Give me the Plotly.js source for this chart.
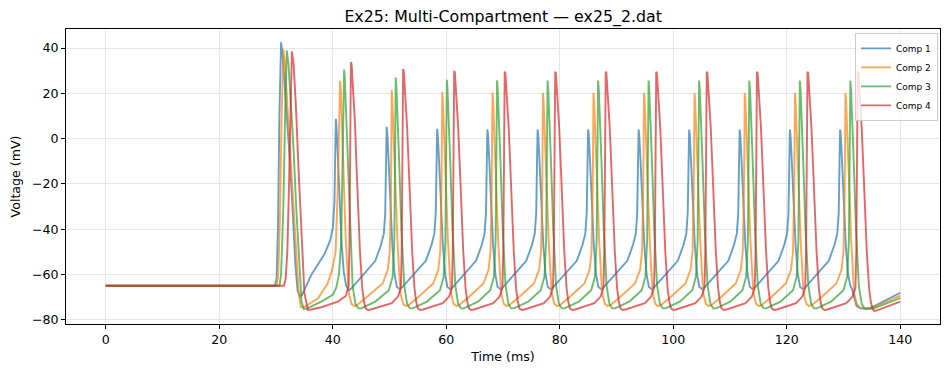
<!DOCTYPE html>
<html>
<head>
<meta charset="utf-8">
<script src="https://cdn.plot.ly/plotly-3.0.1.min.js"></script>
<style>html,body{margin:0;padding:0;background:#fff;}#chart{width:950px;height:374px;}</style>
</head>
<body>
<div id="chart"></div>
<script>
// Series names
const seriesNames = ["Comp 1", "Comp 2", "Comp 3", "Comp 4"];

// Comp 1 (time ms, voltage mV)
const comp1T = [0, 29.8, 30.1, 30.35, 30.6, 30.9, 31.2, 31.6, 32.0, 32.5, 33.0, 33.4, 33.8, 34.2, 34.6, 36.2,
  38.55, 39.55, 40.05, 40.3, 40.45, 40.55, 40.65, 40.85, 41.15, 41.55, 41.95, 42.35, 42.85, 43.35,
  47.5, 48.5, 49.0, 49.25, 49.4, 49.5, 49.6, 49.8, 50.1, 50.5, 50.9, 51.3, 51.8, 52.3,
  56.4, 57.4, 57.9, 58.15, 58.3, 58.4, 58.5, 58.7, 59.0, 59.4, 59.8, 60.2, 60.7, 61.2,
  65.25, 66.25, 66.75, 67.0, 67.15, 67.25, 67.35, 67.55, 67.85, 68.25, 68.65, 69.05, 69.55, 70.05,
  74.1, 75.1, 75.6, 75.85, 76.0, 76.1, 76.2, 76.4, 76.7, 77.1, 77.5, 77.9, 78.4, 78.9,
  83.0, 84.0, 84.5, 84.75, 84.9, 85.0, 85.1, 85.3, 85.6, 86.0, 86.4, 86.8, 87.3, 87.8,
  91.9, 92.9, 93.4, 93.65, 93.8, 93.9, 94.0, 94.2, 94.5, 94.9, 95.3, 95.7, 96.2, 96.7,
  100.8, 101.8, 102.3, 102.55, 102.7, 102.8, 102.9, 103.1, 103.4, 103.8, 104.2, 104.6, 105.1, 105.6,
  109.7, 110.7, 111.2, 111.45, 111.6, 111.7, 111.8, 112.0, 112.3, 112.7, 113.1, 113.5, 114.0, 114.5,
  118.55, 119.55, 120.05, 120.3, 120.45, 120.55, 120.65, 120.85, 121.15, 121.55, 121.95, 122.35, 122.85, 123.35,
  127.4, 128.4, 128.9, 129.15, 129.3, 129.4, 129.5, 129.7, 130.0, 130.4, 130.8, 131.2, 131.5, 131.9, 132.3, 133.0, 134.0, 135.0, 140];
const comp1V = [-65, -65, -62, -40, 10, 42.5, 36, 22, 8, -12, -35, -55, -67, -69.8, -69, -60.3,
  -51, -45, -39, -28, -5, 8.7, 6, -5, -24, -46, -59, -65, -67, -66,
  -54, -47, -42, -33, -10, 5.2, 3, -7, -26, -47, -60, -65.5, -66.5, -65.5,
  -54, -47, -42, -33, -10, 4.3, 2, -8, -28, -47, -60, -65.5, -66.5, -65.5,
  -54, -47, -42, -33, -10, 4.1, 2, -8, -28, -47, -60, -65.5, -66.5, -65.5,
  -54, -47, -42, -33, -10, 4.0, 2, -8, -28, -47, -60, -65.5, -66.5, -65.5,
  -54, -47, -42, -33, -10, 4.0, 2, -8, -28, -47, -60, -65.5, -66.5, -65.5,
  -54, -47, -42, -33, -10, 4.0, 2, -8, -28, -47, -60, -65.5, -66.5, -65.5,
  -54, -47, -42, -33, -10, 4.0, 2, -8, -28, -47, -60, -65.5, -66.5, -65.5,
  -54, -47, -42, -33, -10, 4.0, 2, -8, -28, -47, -60, -65.5, -66.5, -65.5,
  -54, -47, -42, -33, -10, 4.0, 2, -8, -28, -47, -60, -65.5, -66.5, -65.5,
  -54, -47, -42, -33, -10, 4.0, 2, -8, -28, -47, -60, -65, -66.5, -71, -74, -75, -75.2, -74.5, -68.1];

// Comp 2
const comp2T = [0, 30.1, 30.4, 30.7, 31.0, 31.3, 31.6, 32.0, 32.5, 33.0, 33.5, 34.0, 34.4, 34.9, 37.4,
  39.1, 39.9, 40.5, 40.85, 41.05, 41.3, 41.42, 41.6, 41.8, 42.3, 42.8, 43.3, 43.8, 44.3, 46.0,
  48.8, 49.7, 50.05, 50.25, 50.33, 50.4, 50.5, 50.65, 50.9, 51.4, 51.9, 52.4, 52.9, 53.4, 55.1,
  57.7, 58.6, 58.95, 59.15, 59.23, 59.3, 59.4, 59.55, 59.8, 60.3, 60.8, 61.3, 61.8, 62.3, 64.0,
  66.55, 67.45, 67.8, 68.0, 68.08, 68.15, 68.25, 68.4, 68.65, 69.15, 69.65, 70.15, 70.65, 71.15, 72.85,
  75.45, 76.35, 76.7, 76.9, 76.98, 77.05, 77.15, 77.3, 77.55, 78.05, 78.55, 79.05, 79.55, 80.05, 81.75,
  84.35, 85.25, 85.6, 85.8, 85.88, 85.95, 86.05, 86.2, 86.45, 86.95, 87.45, 87.95, 88.45, 88.95, 90.65,
  93.25, 94.15, 94.5, 94.7, 94.78, 94.85, 94.95, 95.1, 95.35, 95.85, 96.35, 96.85, 97.35, 97.85, 99.55,
  102.15, 103.05, 103.4, 103.6, 103.68, 103.75, 103.85, 104.0, 104.25, 104.75, 105.25, 105.75, 106.25, 106.75, 108.45,
  111.0, 111.9, 112.25, 112.45, 112.53, 112.6, 112.7, 112.85, 113.1, 113.6, 114.1, 114.6, 115.1, 115.6, 117.3,
  119.85, 120.75, 121.1, 121.3, 121.38, 121.45, 121.55, 121.7, 121.95, 122.45, 122.95, 123.45, 123.95, 124.45, 126.15,
  128.75, 129.65, 130.0, 130.2, 130.28, 130.35, 130.45, 130.6, 130.85, 131.35, 131.85, 132.35, 132.85, 133.6, 135.0, 140];
const comp2V = [-65, -65, -60, -35, 10, 39.5, 32, 15, -5, -28, -52, -68, -74.5, -74.5, -70.5,
  -64, -58, -50, -25, 0, 25.5, 22, 10, -10, -45, -68, -73, -74, -73.5, -70,
  -64, -58, -50, -25, 5, 21.3, 17, 6, -10, -45, -68, -73, -74, -73.5, -70,
  -64, -58, -50, -25, 5, 20.6, 17, 6, -10, -45, -68, -73, -74, -73.5, -70,
  -64, -58, -50, -25, 5, 20.3, 17, 6, -10, -45, -68, -73, -74, -73.5, -70,
  -64, -58, -50, -25, 5, 20.2, 17, 6, -10, -45, -68, -73, -74, -73.5, -70,
  -64, -58, -50, -25, 5, 20.2, 17, 6, -10, -45, -68, -73, -74, -73.5, -70,
  -64, -58, -50, -25, 5, 20.2, 17, 6, -10, -45, -68, -73, -74, -73.5, -70,
  -64, -58, -50, -25, 5, 20.2, 17, 6, -10, -45, -68, -73, -74, -73.5, -70,
  -64, -58, -50, -25, 5, 20.2, 17, 6, -10, -45, -68, -73, -74, -73.5, -70,
  -64, -58, -50, -25, 5, 20.2, 17, 6, -10, -45, -68, -73, -74, -73.5, -70,
  -64, -58, -50, -25, 5, 20.2, 17, 6, -10, -45, -68, -73, -74.5, -75, -74.8, -69.4];

// Comp 3
const comp3T = [0, 30.6, 30.9, 31.3, 31.6, 31.9, 32.2, 32.6, 33.1, 33.6, 34.1, 34.5, 34.9, 35.5, 38.0, 40.0,
  40.6, 41.1, 41.5, 41.75, 41.9, 42.0, 42.12, 42.3, 42.6, 43.0, 43.5, 44.0, 44.5, 45.0, 47.5,
  49.9, 50.55, 50.85, 51.0, 51.05, 51.1, 51.22, 51.4, 51.7, 52.1, 52.6, 53.1, 53.6, 54.1, 56.6,
  58.9, 59.55, 59.85, 60.0, 60.05, 60.1, 60.22, 60.4, 60.7, 61.1, 61.6, 62.1, 62.6, 63.1, 65.6,
  67.75, 68.4, 68.7, 68.85, 68.9, 68.95, 69.07, 69.25, 69.55, 69.95, 70.45, 70.95, 71.45, 71.95, 74.45,
  76.65, 77.3, 77.6, 77.75, 77.8, 77.85, 77.97, 78.15, 78.45, 78.85, 79.35, 79.85, 80.35, 80.85, 83.35,
  85.55, 86.2, 86.5, 86.65, 86.7, 86.75, 86.87, 87.05, 87.35, 87.75, 88.25, 88.75, 89.25, 89.75, 92.25,
  94.45, 95.1, 95.4, 95.55, 95.6, 95.65, 95.77, 95.95, 96.25, 96.65, 97.15, 97.65, 98.15, 98.65, 101.15,
  103.35, 104.0, 104.3, 104.45, 104.5, 104.55, 104.67, 104.85, 105.15, 105.55, 106.05, 106.55, 107.05, 107.55, 110.05,
  112.2, 112.85, 113.15, 113.3, 113.35, 113.4, 113.52, 113.7, 114.0, 114.4, 114.9, 115.4, 115.9, 116.4, 118.9,
  121.1, 121.75, 122.05, 122.2, 122.25, 122.3, 122.42, 122.6, 122.9, 123.3, 123.8, 124.3, 124.8, 125.3, 127.8,
  130.0, 130.65, 130.95, 131.1, 131.15, 131.2, 131.32, 131.5, 131.8, 132.2, 132.7, 133.2, 133.7, 134.5, 135.3, 140];
const comp3V = [-65, -65, -60, -30, 10, 39, 33, 18, -5, -32, -58, -72, -75.3, -75, -72, -69,
  -66, -60, -45, -10, 15, 30.5, 27, 15, -10, -40, -65, -73, -75, -75, -72,
  -67, -61, -45, -10, 12, 27, 23, 12, -10, -40, -65, -73, -75, -75, -72,
  -67, -61, -45, -10, 12, 26, 22, 12, -10, -40, -65, -73, -75, -75, -72,
  -67, -61, -45, -10, 12, 25.7, 22, 12, -10, -40, -65, -73, -75, -75, -72,
  -67, -61, -45, -10, 12, 25.6, 22, 12, -10, -40, -65, -73, -75, -75, -72,
  -67, -61, -45, -10, 12, 25.6, 22, 12, -10, -40, -65, -73, -75, -75, -72,
  -67, -61, -45, -10, 12, 25.6, 22, 12, -10, -40, -65, -73, -75, -75, -72,
  -67, -61, -45, -10, 12, 25.6, 22, 12, -10, -40, -65, -73, -75, -75, -72,
  -67, -61, -45, -10, 12, 25.6, 22, 12, -10, -40, -65, -73, -75, -75, -72,
  -67, -61, -45, -10, 12, 25.6, 22, 12, -10, -40, -65, -73, -75, -75, -72,
  -67, -61, -45, -10, 12, 25.6, 22, 12, -10, -40, -65, -73, -75, -75.3, -75, -70.5];

// Comp 4
const comp4T = [0, 31.4, 31.7, 32.0, 32.3, 32.55, 32.8, 33.1, 33.5, 34.0, 34.5, 35.0, 35.6, 36.2, 38.0, 40.9,
  42.3, 42.8, 42.95, 43.05, 43.13, 43.2, 43.32, 43.55, 43.9, 44.2, 44.8, 45.2, 45.5, 45.8, 46.2, 46.7,
  50.4, 51.5, 52.0, 52.15, 52.25, 52.33, 52.4, 52.52, 52.75, 53.1, 53.4, 54.0, 54.4, 54.7, 55.0, 55.4, 55.9,
  59.4, 60.5, 61.0, 61.15, 61.25, 61.33, 61.4, 61.52, 61.75, 62.1, 62.4, 63.0, 63.4, 63.7, 64.0, 64.4, 64.9,
  68.3, 69.4, 69.9, 70.05, 70.15, 70.23, 70.3, 70.42, 70.65, 71.0, 71.3, 71.9, 72.3, 72.6, 72.9, 73.3, 73.8,
  77.2, 78.3, 78.8, 78.95, 79.05, 79.13, 79.2, 79.32, 79.55, 79.9, 80.2, 80.8, 81.2, 81.5, 81.8, 82.2, 82.7,
  86.1, 87.2, 87.7, 87.85, 87.95, 88.03, 88.1, 88.22, 88.45, 88.8, 89.1, 89.7, 90.1, 90.4, 90.7, 91.1, 91.6,
  95.0, 96.1, 96.6, 96.75, 96.85, 96.93, 97.0, 97.12, 97.35, 97.7, 98.0, 98.6, 99.0, 99.3, 99.6, 100.0, 100.5,
  103.9, 105.0, 105.5, 105.65, 105.75, 105.83, 105.9, 106.02, 106.25, 106.6, 106.9, 107.5, 107.9, 108.2, 108.5, 108.9, 109.4,
  112.75, 113.85, 114.35, 114.5, 114.6, 114.68, 114.75, 114.87, 115.1, 115.45, 115.75, 116.35, 116.75, 117.05, 117.35, 117.75, 118.25,
  121.65, 122.75, 123.25, 123.4, 123.5, 123.58, 123.65, 123.77, 124.0, 124.35, 124.65, 125.25, 125.65, 125.95, 126.25, 126.65, 127.15,
  130.5, 131.6, 132.1, 132.25, 132.35, 132.43, 132.5, 132.62, 132.85, 133.2, 133.5, 134.1, 134.5, 134.8, 135.1, 135.4, 136.0, 140];
const comp4V = [-65, -65, -62, -50, -20, 15, 38.5, 33, 15, -15, -45, -68, -75.7, -75.5, -74.5, -72,
  -69.5, -65, -45, -12, 18, 33.8, 33, 24, 8, -13, -50, -66, -72, -75, -75.7, -75.5,
  -72.7, -69.8, -66, -50, -15, 15, 30.7, 30, 21, 5, -13, -50, -66, -72, -75, -75.7, -75.5,
  -72.7, -69.8, -66, -50, -15, 15, 29.9, 29.3, 20, 5, -13, -50, -66, -72, -75, -75.7, -75.5,
  -72.7, -69.8, -66, -50, -15, 15, 29.6, 29, 20, 5, -13, -50, -66, -72, -75, -75.7, -75.5,
  -72.7, -69.8, -66, -50, -15, 15, 29.5, 29, 20, 5, -13, -50, -66, -72, -75, -75.7, -75.5,
  -72.7, -69.8, -66, -50, -15, 15, 29.5, 29, 20, 5, -13, -50, -66, -72, -75, -75.7, -75.5,
  -72.7, -69.8, -66, -50, -15, 15, 29.5, 29, 20, 5, -13, -50, -66, -72, -75, -75.7, -75.5,
  -72.7, -69.8, -66, -50, -15, 15, 29.5, 29, 20, 5, -13, -50, -66, -72, -75, -75.7, -75.5,
  -72.7, -69.8, -66, -50, -15, 15, 29.5, 29, 20, 5, -13, -50, -66, -72, -75, -75.7, -75.5,
  -72.7, -69.8, -66, -50, -15, 15, 29.5, 29, 20, 5, -13, -50, -66, -72, -75, -75.7, -75.5,
  -72.7, -69.8, -66, -50, -15, 15, 29.5, 29, 20, 5, -13, -50, -66, -72, -75, -76.2, -75.8, -72];

const xTicks = [0, 20, 40, 60, 80, 100, 120, 140];
const yTicks = [-80, -60, -40, -20, 0, 20, 40];

const colors = ["#1f77b4", "#ff7f0e", "#2ca02c", "#d62728"];
const allT = [comp1T, comp2T, comp3T, comp4T];
const allV = [comp1V, comp2V, comp3V, comp4V];

const traces = allT.map((t, i) => ({
  type: "scatter", mode: "lines", x: t, y: allV[i], name: seriesNames[i],
  line: {color: colors[i], width: 1.9}, opacity: 0.7
}));

const font = "DejaVu Sans, sans-serif";
const axisCommon = {
  showline: true, linecolor: "#000", linewidth: 1, mirror: true,
  ticks: "outside", ticklen: 4, tickwidth: 1, tickcolor: "#000",
  showgrid: true, gridcolor: "#e6e6e6", gridwidth: 1, zeroline: false,
  tickfont: {family: font, size: 12.6, color: "#000"}
};

const layout = {
  width: 950, height: 374,
  margin: {l: 66, r: 10, t: 29, b: 50},
  paper_bgcolor: "#fff", plot_bgcolor: "#fff",
  font: {family: font, color: "#000"},
  title: {text: "Ex25: Multi-Compartment — ex25_2.dat", font: {family: font, size: 15.8, color: "#000"},
          x: 0.5296, xanchor: "center", y: 0.957, yanchor: "middle"},
  xaxis: Object.assign({}, axisCommon, {range: [-7, 147], tickvals: xTicks, ticktext: xTicks.map(String),
    title: {text: "Time (ms)", font: {family: font, size: 12.6}, standoff: 6}}),
  yaxis: Object.assign({}, axisCommon, {range: [-81.9, 48.4], tickvals: yTicks,
    title: {text: "Voltage (mV)", font: {family: font, size: 12.6}, standoff: 8}}),
  showlegend: true,
  legend: {x: 0.9977, xanchor: "right", y: 0.987, yanchor: "top",
    bgcolor: "rgba(255,255,255,0.8)", bordercolor: "#cccccc", borderwidth: 1,
    font: {family: font, size: 9, color: "#000"}, tracegroupgap: 0},
  hovermode: false
};

Plotly.newPlot("chart", traces, layout, {displayModeBar: false, staticPlot: true});
</script>
</body>
</html>
